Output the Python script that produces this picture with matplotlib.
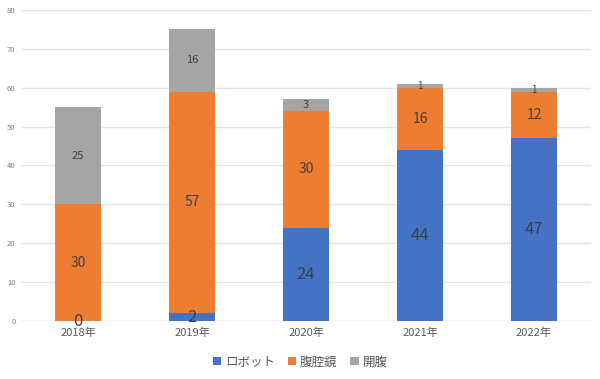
import matplotlib.pyplot as plt
import numpy as np

plt.rcParams['font.family'] = ['Noto Sans CJK JP', 'DejaVu Sans']

years = ['2018年', '2019年', '2020年', '2021年', '2022年']
robot = [0, 2, 24, 44, 47]
lap = [30, 57, 30, 16, 12]
open_ = [25, 16, 3, 1, 1]

series = [('ロボット', robot, '#4472C4', 12),
          ('腹腔鏡', lap, '#ED7D31', 10),
          ('開腹', open_, '#A5A5A5', 8)]

fig = plt.figure(figsize=(6, 3.79), dpi=100)
ax = fig.add_axes([0.035, 0.153, 0.95, 0.821])

x = np.arange(len(years))
bottom = np.zeros(len(years))
for name, vals, col, fs in series:
    ax.bar(x, vals, 0.4, bottom=bottom, color=col, label=name, zorder=2)
    for xi, b, v in zip(x, bottom, vals):
        size = 7 if (name == '開腹' and v == 1) else fs
        ax.text(xi, b + v / 2, str(v), ha='center', va='center',
                fontsize=size, color='#404040', zorder=3)
    bottom += np.array(vals)

ax.set_xlim(-0.5, 4.5)
ax.set_ylim(0, 80)
ax.set_yticks(range(0, 81, 10))
ax.yaxis.grid(True, color='#E4E4E4', linewidth=1, zorder=0)
ax.set_xticks(x)
ax.set_xticklabels(years, fontsize=8, color='#595959')
ax.tick_params(axis='y', labelsize=5.5, colors='#7F7F7F', length=0, pad=4)
ax.tick_params(axis='x', length=0, pad=5)
for s in ax.spines.values():
    s.set_visible(False)
ax.axhline(0, color='#D9D9D9', linewidth=1, zorder=1)

leg = fig.legend(loc='center', bbox_to_anchor=(0.5, 0.045), ncol=3, frameon=False,
                 fontsize=9, handlelength=0.7, handleheight=0.7, handletextpad=0.3,
                 columnspacing=1.0)
for t in leg.get_texts():
    t.set_color('#595959')

fig.savefig('out.png', dpi=100)
